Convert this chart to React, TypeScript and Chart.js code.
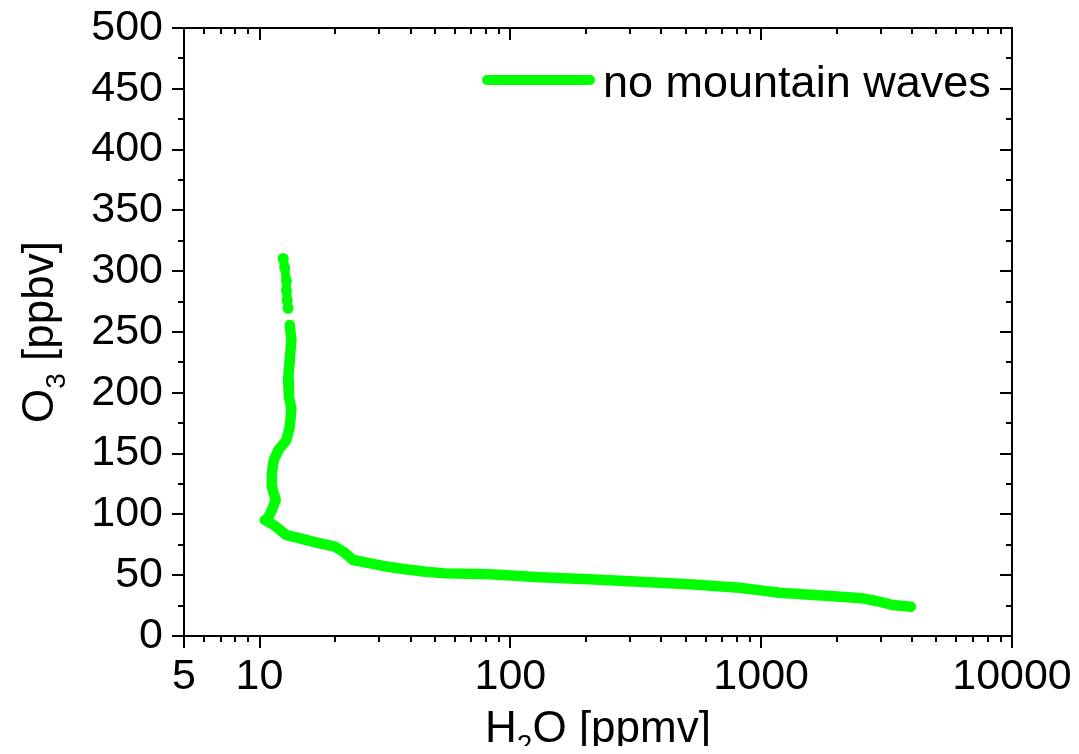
import React, { useEffect, useRef } from "react";
import { Chart, registerables } from "chart.js";

Chart.register(...registerables);

// ---- data ----
const seriesLabel = "no mountain waves";
const xTickValues = [5, 10, 100, 1000, 10000];
const yMin = 0;
const yMax = 500;
const yTickStep = 50;
const yMinorStep = 25;

// upper beaded segment (H2O ppmv, O3 ppbv)
const dotsH2O = [12.43, 12.6, 12.8, 12.8, 12.9, 13.0];
const dotsO3 = [310.5, 303, 292, 284, 276, 269.5];

// main continuous profile
const mainH2O = [
  13.2, 13.4, 13.2, 13.0, 13.1, 13.4, 13.2, 12.8, 11.9, 11.4, 11.2, 11.2, 11.6,
  11.2, 10.7, 10.5, 11.4, 12.8, 14.5, 16.9, 20, 21.6, 23.6, 26.7, 31, 37.4, 46,
  55, 82.7, 131, 207, 327, 518, 819, 1014, 1183, 1870, 2536, 2956, 3340, 3953,
];
const mainO3 = [
  255.8, 243.4, 227, 210.5, 196.8, 187, 172, 161, 153, 144.7, 133.8, 122.8,
  111.8, 103.6, 95.4, 95.4, 91.3, 83, 80.3, 76.8, 73.4, 69.3, 62.5, 60.3, 57.6,
  55.1, 52.9, 51.5, 50.7, 48.3, 46.6, 44.7, 42.5, 39.7, 37.3, 35.6, 32.9, 31,
  28.2, 25.5, 24.1,
];

const xTitle = { base: "H", sub: "2", rest: "O [ppmv]" };
const yTitle = { base: "O", sub: "3", rest: " [ppbv]" };

const GREEN = "#00ff00";
const FONT = "'Liberation Sans', Arial, sans-serif";
const FS = 43;
const TITLE_FS = 44;
const LEGEND_FS = 45;
const SUB_FS = 28;

function drawSubText(
  ctx: CanvasRenderingContext2D,
  parts: { base: string; sub: string; rest: string },
  cx: number,
  baseline: number
) {
  ctx.font = `${TITLE_FS}px ${FONT}`;
  const w1 = ctx.measureText(parts.base).width;
  const w3 = ctx.measureText(parts.rest).width;
  ctx.font = `${SUB_FS}px ${FONT}`;
  const w2 = ctx.measureText(parts.sub).width;
  const total = w1 + w2 + w3;
  let x = cx - total / 2;
  ctx.textAlign = "left";
  ctx.textBaseline = "alphabetic";
  ctx.font = `${TITLE_FS}px ${FONT}`;
  ctx.fillText(parts.base, x, baseline);
  x += w1;
  ctx.font = `${SUB_FS}px ${FONT}`;
  ctx.fillText(parts.sub, x, baseline + 12);
  x += w2;
  ctx.font = `${TITLE_FS}px ${FONT}`;
  ctx.fillText(parts.rest, x, baseline);
}

const framePlugin = {
  id: "framePlugin",
  afterDraw(chart: any) {
    const ctx: CanvasRenderingContext2D = chart.ctx;
    const { left, right, top, bottom } = chart.chartArea;
    const xs = chart.scales.x;
    const ys = chart.scales.y;
    ctx.save();
    ctx.strokeStyle = "#000";
    ctx.lineWidth = 2;
    ctx.lineCap = "butt";
    const line = (x1: number, y1: number, x2: number, y2: number) => {
      ctx.beginPath();
      ctx.moveTo(x1, y1);
      ctx.lineTo(x2, y2);
      ctx.stroke();
    };
    // x ticks (log)
    const xmin = xTickValues[0];
    const xmax = xTickValues[xTickValues.length - 1];
    for (let d = 1; d <= xmax; d *= 10) {
      for (let m = 1; m < 10; m++) {
        const v = d * m;
        if (v < xmin || v > xmax) continue;
        const px = Math.round(xs.getPixelForValue(v));
        const major = xTickValues.includes(v);
        const len = major ? 12 : 6;
        line(px, bottom, px, bottom + len);
        line(px, top, px, top + len);
      }
    }
    // y ticks
    for (let v = yMin; v <= yMax; v += yMinorStep) {
      const py = Math.round(ys.getPixelForValue(v));
      const major = v % yTickStep === 0;
      const len = major ? 12 : 6;
      line(left - len, py, left, py);
      line(right - len, py, right, py);
    }
    ctx.strokeRect(left, top, right - left, bottom - top);

    // legend
    ctx.strokeStyle = GREEN;
    ctx.lineWidth = 10;
    ctx.lineCap = "round";
    line(left + 303, top + 52, left + 406, top + 52);
    ctx.fillStyle = "#000";
    ctx.font = `${LEGEND_FS}px ${FONT}`;
    ctx.textAlign = "left";
    ctx.textBaseline = "alphabetic";
    ctx.fillText(seriesLabel, left + 419, top + 69);

    // axis titles
    drawSubText(ctx, xTitle, (left + right) / 2, 734);
    ctx.translate(45, (top + bottom) / 2);
    ctx.rotate(-Math.PI / 2);
    drawSubText(ctx, yTitle, 0, 0);
    ctx.restore();
  },
};

const zeroPad = (s: any) => {
  s.paddingTop = 0;
  s.paddingBottom = 0;
  s.paddingLeft = 0;
  s.paddingRight = 0;
};

export default function App() {
  const ref = useRef<HTMLCanvasElement>(null);
  useEffect(() => {
    if (!ref.current) return;
    const chart = new Chart(ref.current, {
      type: "scatter",
      data: {
        datasets: [
          {
            label: seriesLabel,
            data: mainH2O.map((x, i) => ({ x, y: mainO3[i] })),
            showLine: true,
            borderColor: GREEN,
            backgroundColor: GREEN,
            borderWidth: 10.5,
            borderCapStyle: "round",
            borderJoinStyle: "round",
            pointRadius: 0,
            tension: 0,
          },
          {
            label: seriesLabel + " (upper)",
            data: dotsH2O.map((x, i) => ({ x, y: dotsO3[i] })),
            showLine: true,
            borderColor: GREEN,
            backgroundColor: GREEN,
            borderWidth: 9,
            borderCapStyle: "round",
            borderJoinStyle: "round",
            pointRadius: 5.5,
            pointBorderWidth: 0,
            tension: 0,
          },
        ],
      },
      options: {
        animation: false,
        responsive: false,
        layout: { padding: { left: 0, top: 20, right: 59, bottom: 0 }, autoPadding: false },
        plugins: { legend: { display: false }, tooltip: { enabled: false } },
        scales: {
          x: {
            type: "logarithmic",
            position: "bottom",
            min: xTickValues[0],
            max: xTickValues[xTickValues.length - 1],
            afterBuildTicks: (s: any) => {
              s.ticks = xTickValues.map((v) => ({ value: v }));
            },
            afterFit: (s: any) => {
              s.height = 110;
              zeroPad(s);
            },
            ticks: {
              autoSkip: false,
              maxRotation: 0,
              padding: 3,
              color: "#000",
              font: { family: FONT, size: FS },
              callback: (v: any) => String(v),
            },
            grid: { display: true, drawOnChartArea: false, color: "rgba(0,0,0,0)", tickLength: 12 },
            border: { display: false },
          },
          y: {
            type: "linear",
            min: yMin,
            max: yMax,
            afterFit: (s: any) => {
              s.width = 176;
              zeroPad(s);
            },
            ticks: {
              stepSize: yTickStep,
              padding: 9,
              color: "#000",
              font: { family: FONT, size: FS },
            },
            grid: { display: true, drawOnChartArea: false, color: "rgba(0,0,0,0)", tickLength: 12 },
            border: { display: false },
          },
        },
      },
      plugins: [framePlugin],
    } as any);
    return () => chart.destroy();
  }, []);
  return (
    <div style={{ width: 1063, height: 738 }}>
      <canvas ref={ref} width={1063} height={738} style={{ display: "block" }} />
    </div>
  );
}
